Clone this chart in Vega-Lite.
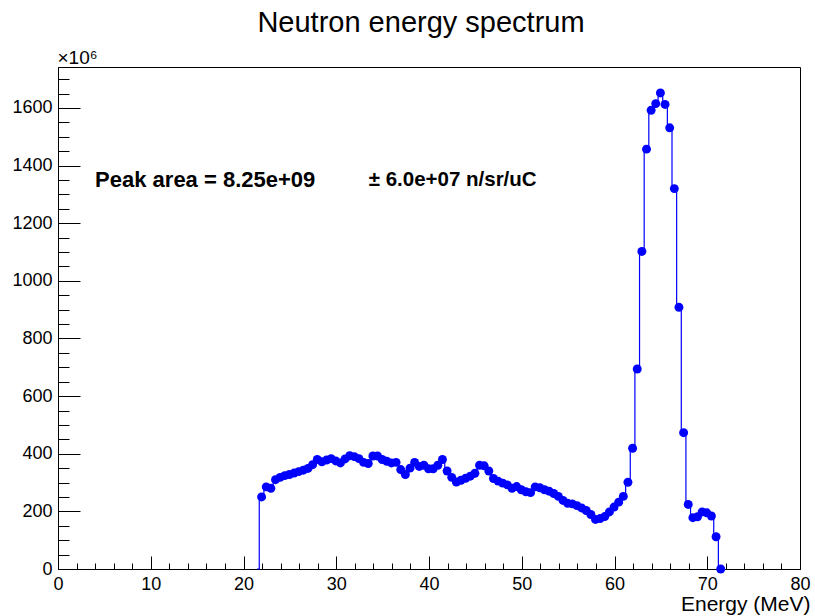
{
  "$schema": "https://vega.github.io/schema/vega-lite/v6.json",
  "width": 742,
  "height": 502,
  "autosize": "none",
  "padding": {"left": 58, "top": 67, "right": 15, "bottom": 47},
  "background": "white",
  "title": {"text": "Neutron energy spectrum", "frame": "group", "anchor": "middle", "offset": 18, "dy": 31, "dx": -8, "baseline": "alphabetic", "fontSize": 29, "font": "Liberation Sans", "fontWeight": "normal", "color": "black"},
  "config": {
    "view": {"stroke": "black", "strokeWidth": 1},
    "axis": {"grid": false, "domainColor": "black", "tickColor": "black", "labelColor": "black", "titleColor": "black", "labelFont": "Liberation Sans", "titleFont": "Liberation Sans", "labelFlush": false, "labelOverlap": false, "tickWidth": 1, "domainWidth": 1}
  },
  "data": {"values": [
    {"E": 21.45, "N": 0},
    {"E": 21.95, "N": 250}, {"E": 22.45, "N": 285}, {"E": 22.95, "N": 280}, {"E": 23.45, "N": 310}, {"E": 23.95, "N": 318},
    {"E": 24.45, "N": 324}, {"E": 24.95, "N": 328}, {"E": 25.45, "N": 333}, {"E": 25.95, "N": 338}, {"E": 26.45, "N": 343},
    {"E": 26.95, "N": 349}, {"E": 27.45, "N": 362}, {"E": 27.95, "N": 380}, {"E": 28.45, "N": 372}, {"E": 28.95, "N": 378},
    {"E": 29.45, "N": 383}, {"E": 29.95, "N": 375}, {"E": 30.45, "N": 368}, {"E": 30.95, "N": 382}, {"E": 31.45, "N": 393},
    {"E": 31.95, "N": 390}, {"E": 32.45, "N": 383}, {"E": 32.95, "N": 370}, {"E": 33.45, "N": 366}, {"E": 33.95, "N": 392},
    {"E": 34.45, "N": 392}, {"E": 34.95, "N": 380}, {"E": 35.45, "N": 374}, {"E": 35.95, "N": 368}, {"E": 36.45, "N": 370},
    {"E": 36.95, "N": 345}, {"E": 37.45, "N": 328}, {"E": 37.95, "N": 350}, {"E": 38.45, "N": 370}, {"E": 38.95, "N": 356},
    {"E": 39.45, "N": 360}, {"E": 39.95, "N": 348}, {"E": 40.45, "N": 348}, {"E": 40.95, "N": 360}, {"E": 41.45, "N": 380},
    {"E": 41.95, "N": 340}, {"E": 42.45, "N": 318}, {"E": 42.95, "N": 302}, {"E": 43.45, "N": 308}, {"E": 43.95, "N": 315},
    {"E": 44.45, "N": 322}, {"E": 44.95, "N": 332}, {"E": 45.45, "N": 360}, {"E": 45.95, "N": 358}, {"E": 46.45, "N": 340},
    {"E": 46.95, "N": 314}, {"E": 47.45, "N": 305}, {"E": 47.95, "N": 298}, {"E": 48.45, "N": 292}, {"E": 48.95, "N": 280},
    {"E": 49.45, "N": 286}, {"E": 49.95, "N": 275}, {"E": 50.45, "N": 268}, {"E": 50.95, "N": 265}, {"E": 51.45, "N": 285},
    {"E": 51.95, "N": 282}, {"E": 52.45, "N": 275}, {"E": 52.95, "N": 270}, {"E": 53.45, "N": 262}, {"E": 53.95, "N": 252},
    {"E": 54.45, "N": 238}, {"E": 54.95, "N": 228}, {"E": 55.45, "N": 226}, {"E": 55.95, "N": 220}, {"E": 56.45, "N": 212},
    {"E": 56.95, "N": 203}, {"E": 57.45, "N": 189}, {"E": 57.95, "N": 172}, {"E": 58.45, "N": 175}, {"E": 58.95, "N": 182},
    {"E": 59.45, "N": 198}, {"E": 59.95, "N": 215}, {"E": 60.45, "N": 232}, {"E": 60.95, "N": 252}, {"E": 61.45, "N": 301},
    {"E": 61.95, "N": 419}, {"E": 62.45, "N": 694}, {"E": 62.95, "N": 1102}, {"E": 63.45, "N": 1457}, {"E": 63.95, "N": 1592},
    {"E": 64.45, "N": 1615}, {"E": 64.95, "N": 1652}, {"E": 65.45, "N": 1612}, {"E": 65.95, "N": 1531}, {"E": 66.45, "N": 1320},
    {"E": 66.95, "N": 908}, {"E": 67.45, "N": 473}, {"E": 67.95, "N": 224}, {"E": 68.45, "N": 178}, {"E": 68.95, "N": 181},
    {"E": 69.45, "N": 198}, {"E": 69.95, "N": 195}, {"E": 70.45, "N": 184}, {"E": 70.95, "N": 112}, {"E": 71.45, "N": 0}
  ]},
  "layer": [
    {
      "mark": {"type": "line", "interpolate": "step", "color": "#0000ff", "strokeWidth": 1.2},
      "encoding": {
        "x": {"field": "E", "type": "quantitative", "scale": {"domain": [0, 80], "nice": false, "zero": false},
          "axis": {"orient": "bottom", "values": [0, 10, 20, 30, 40, 50, 60, 70, 80], "format": "d", "tickSize": -13, "labelPadding": 19, "labelFontSize": 18, "title": "Energy (MeV)", "titleFontSize": 21, "titleFontWeight": "normal", "titleAnchor": null, "titleX": 752, "titleY": 41, "titleAlign": "right", "titleBaseline": "alphabetic"}},
        "y": {"field": "N", "type": "quantitative", "scale": {"domain": [0, 1742], "nice": false, "zero": true},
          "axis": {"orient": "left", "values": [0, 200, 400, 600, 800, 1000, 1200, 1400, 1600], "format": "d", "tickSize": -22, "labelPadding": 28, "labelFontSize": 18, "title": "×10⁶", "titleFontSize": 19, "titleFontWeight": "normal", "titleAngle": 0, "titleAnchor": null, "titleX": -1, "titleY": -4, "titleAlign": "left", "titleBaseline": "alphabetic"}}
      }
    },
    {
      "transform": [{"filter": "datum.E > 21.6"}],
      "mark": {"type": "circle", "color": "#0000ff", "size": 80, "opacity": 1},
      "encoding": {
        "x": {"field": "E", "type": "quantitative",
          "axis": {"orient": "bottom", "values": [0, 2, 4, 6, 8, 10, 12, 14, 16, 18, 20, 22, 24, 26, 28, 30, 32, 34, 36, 38, 40, 42, 44, 46, 48, 50, 52, 54, 56, 58, 60, 62, 64, 66, 68, 70, 72, 74, 76, 78, 80], "tickSize": -6, "labels": false, "domain": false, "title": null}},
        "y": {"field": "N", "type": "quantitative",
          "axis": {"orient": "left", "values": [0, 50, 100, 150, 200, 250, 300, 350, 400, 450, 500, 550, 600, 650, 700, 750, 800, 850, 900, 950, 1000, 1050, 1100, 1150, 1200, 1250, 1300, 1350, 1400, 1450, 1500, 1550, 1600, 1650, 1700], "tickSize": -11, "labels": false, "domain": false, "title": null}}
      }
    },
    {
      "data": {"values": [{"label": "Peak area = 8.25e+09"}]},
      "mark": {"type": "text", "align": "left", "baseline": "middle", "fontSize": 22, "fontWeight": "bold", "font": "Liberation Sans", "color": "black"},
      "encoding": {
        "x": {"datum": 4, "type": "quantitative", "axis": null},
        "y": {"datum": 1350, "type": "quantitative", "axis": null},
        "text": {"field": "label"}
      }
    },
    {
      "data": {"values": [{"label": "± 6.0e+07 n/sr/uC"}]},
      "mark": {"type": "text", "align": "left", "baseline": "middle", "fontSize": 20.5, "fontWeight": "bold", "font": "Liberation Sans", "color": "black"},
      "encoding": {
        "x": {"datum": 33.5, "type": "quantitative", "axis": null},
        "y": {"datum": 1350, "type": "quantitative", "axis": null},
        "text": {"field": "label"}
      }
    }
  ],
  "resolve": {"axis": {"x": "independent", "y": "independent"}}
}
